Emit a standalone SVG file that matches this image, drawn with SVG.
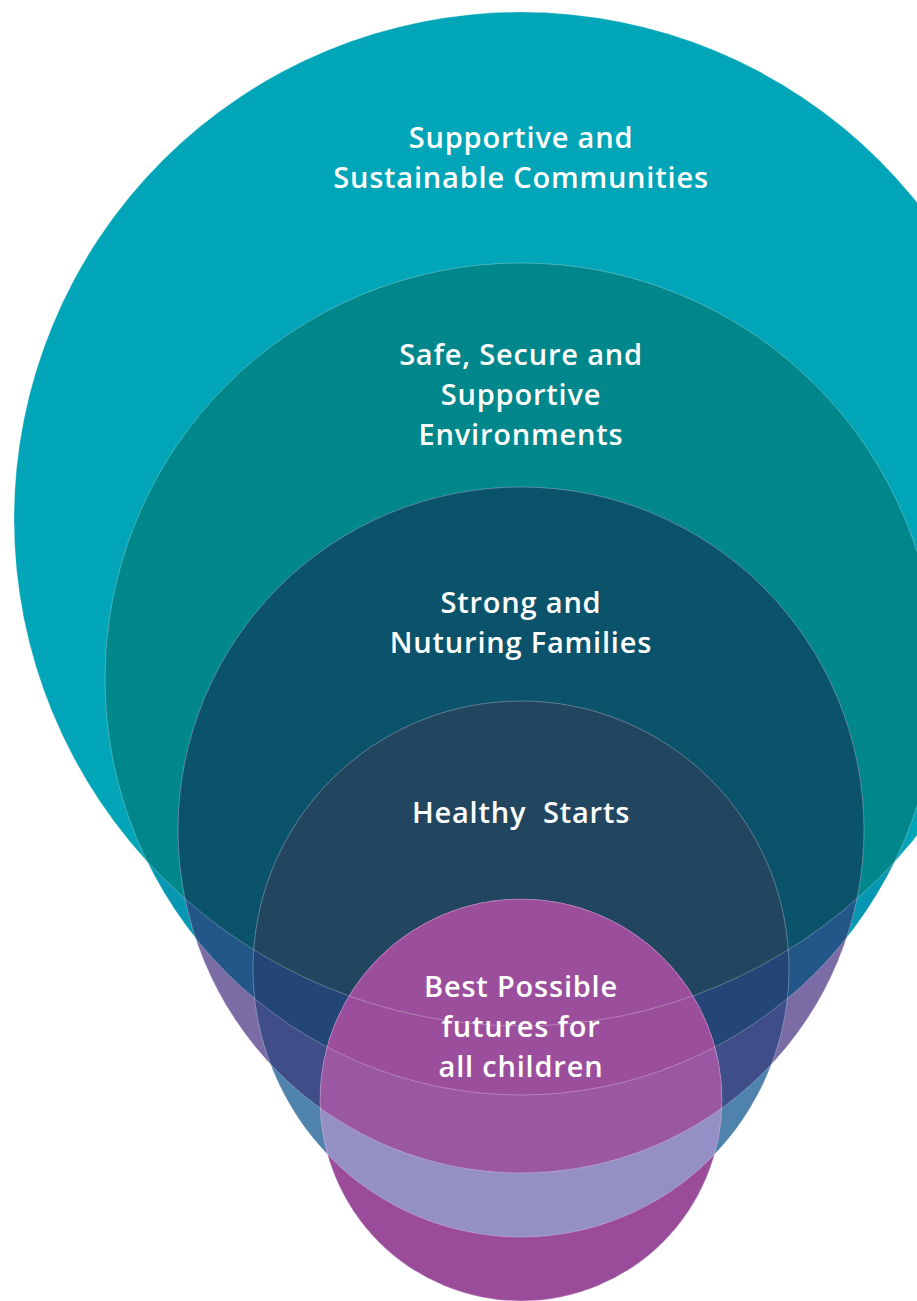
<svg xmlns="http://www.w3.org/2000/svg" width="917" height="1301" viewBox="0 0 917 1301">
<style>
.t{font-family:"Open Sans","Liberation Sans",sans-serif;font-size:29px;font-weight:600;letter-spacing:0.8px;fill:#ffffff;text-anchor:middle}
.edge{fill:none;stroke:#ffffff;stroke-opacity:0.35;stroke-width:0.8}
</style>
<defs>
<clipPath id="k1"><circle cx="521" cy="519" r="507"/></clipPath>
<clipPath id="k2"><circle cx="521" cy="679" r="416"/></clipPath>
<clipPath id="k3"><circle cx="521" cy="830" r="343"/></clipPath>
<clipPath id="k4"><circle cx="521" cy="969" r="268"/></clipPath>
</defs>
<rect width="917" height="1301" fill="#ffffff"/>
<g id="c1">
<circle cx="521" cy="519" r="507" fill="#00A5B8"/>
</g>
<g id="c2">
<circle cx="521" cy="679" r="416" fill="#0698B2"/>
<g clip-path="url(#k1)"><circle cx="521" cy="679" r="416" fill="#00878B"/></g>
</g>
<g id="c3">
<circle cx="521" cy="830" r="343" fill="#7B6CA6"/>
<g clip-path="url(#k2)"><circle cx="521" cy="830" r="343" fill="#225788"/>
<g clip-path="url(#k1)"><circle cx="521" cy="830" r="343" fill="#0B536A"/></g></g>
</g>
<g id="c4">
<circle cx="521" cy="969" r="268" fill="#4F83AE"/>
<g clip-path="url(#k3)"><circle cx="521" cy="969" r="268" fill="#3F4E88"/>
<g clip-path="url(#k2)"><circle cx="521" cy="969" r="268" fill="#234676"/>
<g clip-path="url(#k1)"><circle cx="521" cy="969" r="268" fill="#22465F"/></g></g></g>
</g>
<g id="c5">
<circle cx="521" cy="1100" r="201" fill="#9A4B9A"/>
<g clip-path="url(#k4)"><circle cx="521" cy="1100" r="201" fill="#948FC4"/>
<g clip-path="url(#k3)"><circle cx="521" cy="1100" r="201" fill="#9A57A2"/>
<g clip-path="url(#k2)"><circle cx="521" cy="1100" r="201" fill="#9B4E9B"/></g></g></g>
</g>
<g id="edges">
<circle class="edge" cx="521" cy="519" r="507"/>
<circle class="edge" cx="521" cy="679" r="416"/>
<circle class="edge" cx="521" cy="830" r="343"/>
<circle class="edge" cx="521" cy="969" r="268"/>
<circle class="edge" cx="521" cy="1100" r="201"/>
</g>
<g id="labels">
<text class="t" x="521" y="148">Supportive and</text>
<text class="t" x="521" y="188">Sustainable Communities</text>
<text class="t" x="521" y="365">Safe, Secure and</text>
<text class="t" x="521" y="405">Supportive</text>
<text class="t" x="521" y="445">Environments</text>
<text class="t" x="521" y="613">Strong and</text>
<text class="t" x="521" y="653">Nuturing Families</text>
<text class="t" x="521" y="823" style="white-space:pre">Healthy  Starts</text>
<text class="t" x="521" y="997">Best Possible</text>
<text class="t" x="521" y="1037">futures for</text>
<text class="t" x="521" y="1077">all children</text>
</g>
</svg>
